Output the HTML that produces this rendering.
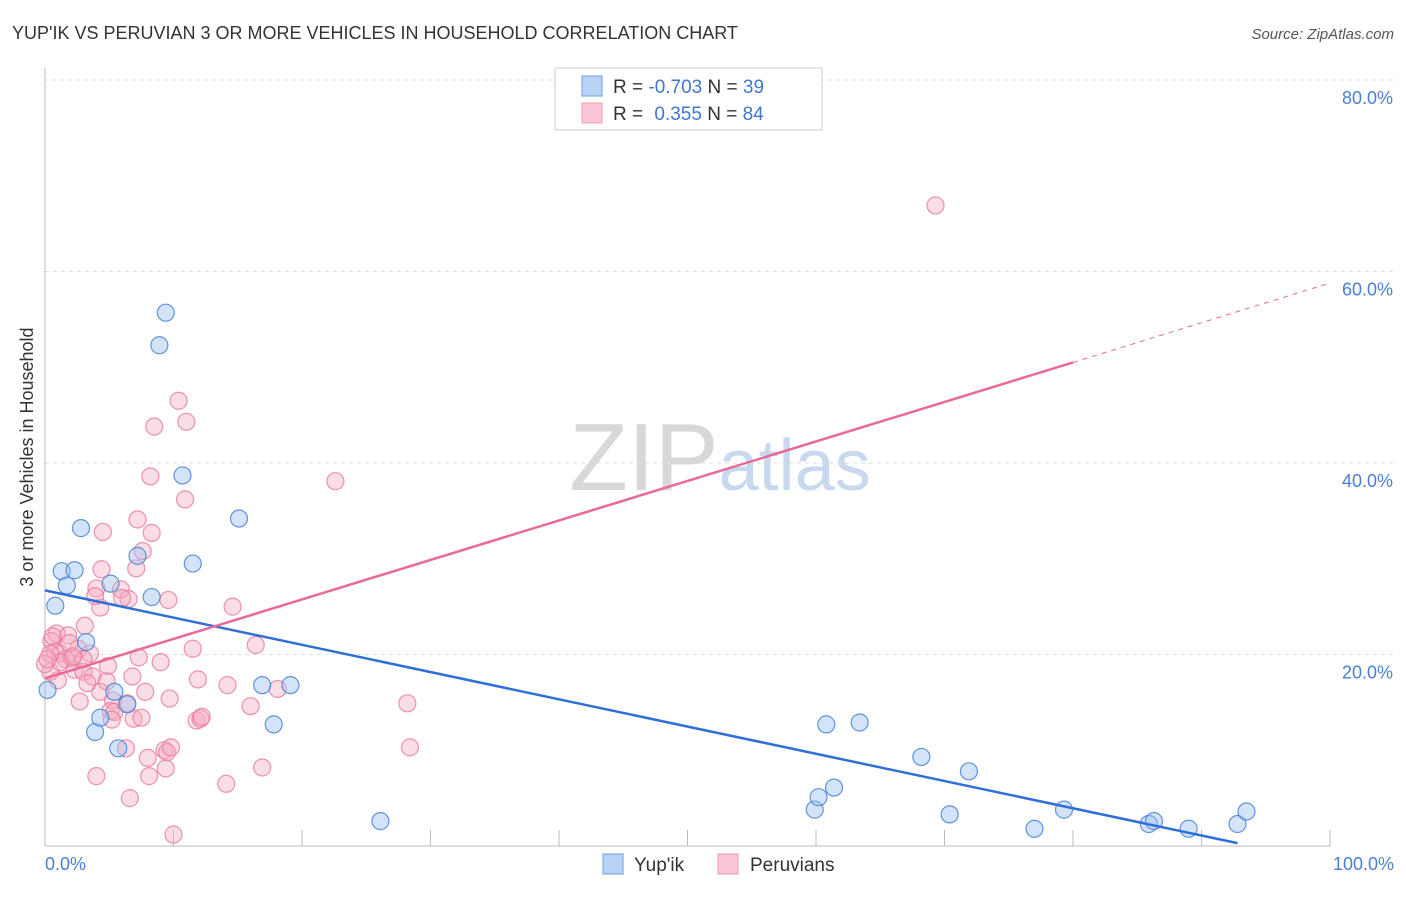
<!DOCTYPE html>
<html><head><meta charset="utf-8"><style>
body{margin:0;background:#fff;font-family:"Liberation Sans",sans-serif}
svg text{font-family:"Liberation Sans",sans-serif}
</style></head><body>
<svg id="chart" width="1406" height="892" xmlns="http://www.w3.org/2000/svg">
<text x="12" y="39" font-size="18" fill="#333">YUP'IK VS PERUVIAN 3 OR MORE VEHICLES IN HOUSEHOLD CORRELATION CHART</text>
<text x="1394" y="39" font-size="15" fill="#555" text-anchor="end" font-style="italic">Source: ZipAtlas.com</text>
<text x="720" y="490" font-size="96" text-anchor="middle" fill="#ddd" font-family="Liberation Serif"><tspan fill="#d8d8d8">ZIP</tspan><tspan fill="#c8d8ee" font-family="Liberation Sans" font-size="72">atlas</tspan></text>
<g id="grid"></g>
<line x1="45" y1="68" x2="45" y2="846" stroke="#bbb"/>
<line x1="45" y1="846" x2="1330" y2="846" stroke="#bbb"/>
<text transform="translate(33,457) rotate(-90)" font-size="18" fill="#333" text-anchor="middle">3 or more Vehicles in Household</text>
<text x="45" y="870" font-size="18" fill="#4a7fd4">0.0%</text>
<text x="1394" y="870" font-size="18" fill="#4a7fd4" text-anchor="end">100.0%</text>
<g id="points"></g>
<g id="lines"></g>
<g>
<rect x="555" y="68" width="267" height="62" fill="#fff" stroke="#ccc"/>
<rect x="582" y="76" width="20" height="20" fill="#b9d3f5" stroke="#6f9fe0"/>
<rect x="582" y="103" width="20" height="20" fill="#f9c7d5" stroke="#ee9ab2"/>
<text x="613" y="93" font-size="19" fill="#333">R = <tspan fill="#3f77d1">-0.703</tspan>   N = <tspan fill="#3f77d1">39</tspan></text>
<text x="613" y="120" font-size="19" fill="#333">R = <tspan fill="#3f77d1" dx="6"> 0.355</tspan>   N = <tspan fill="#3f77d1">84</tspan></text>
</g>
<g>
<rect x="603" y="854" width="20" height="20" fill="#b9d3f5" stroke="#6f9fe0"/>
<text x="634" y="871" font-size="19" fill="#333">Yup'ik</text>
<rect x="718" y="854" width="20" height="20" fill="#f9c7d5" stroke="#ee9ab2"/>
<text x="750" y="871" font-size="19" fill="#333">Peruvians</text>
</g>
</svg>
<script>
const yTicks=[20,40,60,80];
const blueX=[0.2,0.8,1.3,1.7,2.3,2.8,3.2,3.9,4.3,5.1,5.4,5.7,6.4,7.2,8.3,8.9,9.4,10.7,11.5,15.1,16.9,17.8,19.1,26.1,59.9,60.2,60.8,61.4,63.4,68.2,70.4,71.9,77.0,79.3,85.9,86.3,89.0,92.8,93.5];
const blueY=[16.3,25.1,28.7,27.2,28.8,33.2,21.3,11.9,13.4,27.4,16.1,10.2,14.8,30.3,26.0,52.3,55.7,38.7,29.5,34.2,16.8,12.7,16.8,2.6,3.8,5.1,12.7,6.1,12.9,9.3,3.3,7.8,1.8,3.8,2.3,2.6,1.8,2.3,3.6];
const pinkX=[69.3,10.4,8.5,11.0,8.2,10.9,22.6,7.2,4.5,8.3,7.6,4.4,7.1,4.0,5.9,6.5,6.0,4.3,9.6,14.6,3.1,3.9,0.9,1.8,2.6,0.5,0.8,1.2,1.6,2.1,3.5,1.0,4.9,7.3,11.5,16.4,0.4,1.2,2.3,3.0,3.7,4.3,3.3,4.8,6.8,7.8,9.0,11.9,14.2,0.4,0.0,2.7,5.3,6.4,6.9,9.7,11.8,12.1,12.2,16.0,18.1,28.2,28.4,9.3,4.0,8.0,9.5,9.8,6.3,6.6,8.1,9.4,14.1,16.9,10.0,3.0,1.9,0.2,0.6,5.1,5.4,7.5,5.2,2.2];
const pinkY=[66.9,46.5,43.8,44.3,38.6,36.2,38.1,34.1,32.8,32.7,30.8,28.9,29.0,26.9,26.8,25.8,25.9,24.9,25.7,25.0,23.0,26.1,22.2,22.0,20.6,21.4,20.3,20.1,19.5,19.6,20.1,17.3,18.8,19.7,20.6,21.0,18.2,19.2,18.4,18.2,17.7,16.1,17.0,17.2,17.7,16.1,19.2,17.4,16.8,20.1,19.0,15.1,15.2,14.9,13.3,15.4,13.1,13.3,13.5,14.6,16.4,14.9,10.3,10.0,7.3,9.2,9.8,10.3,10.2,5.0,7.3,8.1,6.5,8.2,1.2,19.5,21.2,19.5,21.9,14.1,14.0,13.4,13.2,19.8];
const blueLine=[26.7,0.3,92.8];
const pinkLine=[17.5,50.5,80,58.8,100];
const X=v=>45+v*12.85, Y=v=>846-v*9.575;
const NS="http://www.w3.org/2000/svg";
const grid=document.getElementById('grid');
yTicks.forEach(t=>{
 const l=document.createElementNS(NS,'line');
 
 
 l.setAttribute('x1',45);l.setAttribute('x2',1394);l.setAttribute('y1',Y(t));l.setAttribute('y2',Y(t));
 l.setAttribute('stroke','#ddd');l.setAttribute('stroke-dasharray','4,4');grid.appendChild(l);
 const tx=document.createElementNS(NS,'text');
 
 
 tx.setAttribute('x',1393);tx.setAttribute('y',Y(t)+24);tx.setAttribute('text-anchor','end');
 tx.setAttribute('font-size','18');tx.setAttribute('fill','#4a7fd4');tx.textContent=t.toFixed(1)+'%';grid.appendChild(tx);
});
for(let i=1;i<=10;i++){
 const l=document.createElementNS(NS,'line');
 
 
 l.setAttribute('x1',X(i*10));l.setAttribute('x2',X(i*10));l.setAttribute('y1',830);l.setAttribute('y2',846);
 l.setAttribute('stroke','#bbb');grid.appendChild(l);
}
const pts=document.getElementById('points');
function dot(x,y,fill,stroke,name){
 const c=document.createElementNS(NS,'circle');
 
 
 c.setAttribute('cx',X(x));c.setAttribute('cy',Y(y));c.setAttribute('r',8.5);
 c.setAttribute('fill',fill);c.setAttribute('stroke',stroke);c.setAttribute('stroke-width','1.2');pts.appendChild(c);
}
pinkX.forEach((x,i)=>dot(x,pinkY[i],'rgba(246,170,192,0.4)','rgba(232,120,155,0.8)','peruvian-point'));
blueX.forEach((x,i)=>dot(x,blueY[i],'rgba(160,196,240,0.45)','rgba(70,130,215,0.85)','yupik-point'));
const lines=document.getElementById('lines');
function ln(x1,y1,x2,y2,col,w,dash,name){
 const l=document.createElementNS(NS,'line');
 
 
 l.setAttribute('x1',X(x1));l.setAttribute('y1',Y(y1));l.setAttribute('x2',X(x2));l.setAttribute('y2',Y(y2));
 l.setAttribute('stroke',col);l.setAttribute('stroke-width',w);if(dash)l.setAttribute('stroke-dasharray',dash);lines.appendChild(l);
}
ln(0,blueLine[0],blueLine[2],blueLine[1],'#2f6fd6',2.5,null,'yupik-trend-line');
ln(0,pinkLine[0],pinkLine[2],pinkLine[1],'#e8699a',2.5,null,'peruvian-trend-line');
ln(pinkLine[2],pinkLine[1],pinkLine[4],pinkLine[3],'#e8699a',1,'5,5','peruvian-trend-extension');
</script>
</body></html>
